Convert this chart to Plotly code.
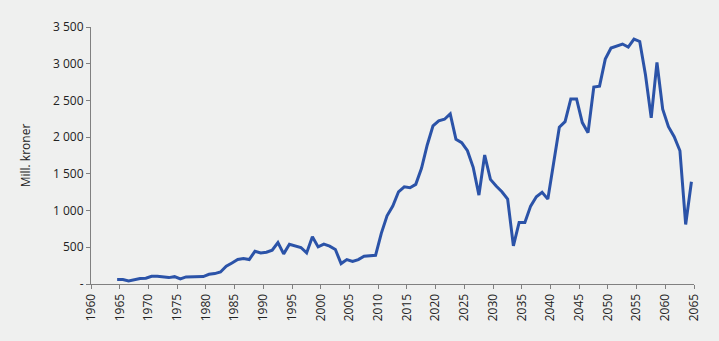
import plotly.graph_objects as go

years = list(range(1965, 2066))
values = [
    60, 60, 41, 60, 74, 78, 105, 105, 100, 87,
    100, 68, 96, 100, 100, 101, 132, 142, 164, 242,
    287, 333, 347, 333, 446, 423, 433, 460, 565, 410,
    542, 515, 497, 423, 642, 505, 542, 515, 470, 278,
    333, 306, 333, 378, 380, 390, 690, 928, 1061, 1256,
    1324, 1311, 1357, 1575, 1893, 2153, 2221, 2244, 2316, 1971,
    1925, 1815, 1589, 1211, 1757, 1425, 1334, 1256, 1156, 519,
    838, 838, 1061, 1188, 1248, 1156, 1643, 2135, 2211, 2521,
    2521, 2198, 2061, 2681, 2694, 3063, 3213, 3245, 3268, 3227,
    3336, 3303, 2850, 2262, 3017, 2380, 2143, 2007, 1815, 811,
    1392,
]

x_tick_years = list(range(1960, 2070, 5))
y_tick_vals = [0, 500, 1000, 1500, 2000, 2500, 3000, 3500]
y_tick_text = ["-", "500", "1 000", "1 500", "2 000", "2 500", "3 000", "3 500"]

offset = 0.45  # data points sit slightly left of the year tick

fig = go.Figure()
fig.add_trace(go.Scatter(
    x=years, y=values, mode="lines",
    line=dict(color="#2b53a8", width=3),
    showlegend=False, hoverinfo="skip",
))

fig.update_layout(
    width=719, height=341,
    margin=dict(l=91, r=25, t=27, b=57),
    paper_bgcolor="#eff0ef",
    plot_bgcolor="#eff0ef",
    font=dict(family="Open Sans", size=12, color="#222222"),
)

fig.update_xaxes(
    range=[1960 + offset, 2065 + offset],
    tickmode="array",
    tickvals=[t + offset for t in x_tick_years],
    ticktext=[str(t) for t in x_tick_years],
    tickangle=-90,
    showgrid=False, zeroline=False,
    showline=True, linecolor="#808080", linewidth=1,
    ticks="outside", ticklen=4, tickcolor="#808080", tickwidth=1,
    tickfont=dict(size=12),
)
fig.update_yaxes(
    range=[0, 3500],
    tickmode="array",
    tickvals=y_tick_vals,
    ticktext=y_tick_text,
    showgrid=False, zeroline=False,
    showline=True, linecolor="#808080", linewidth=1,
    ticks="outside", ticklen=4, tickcolor="#808080", tickwidth=1,
    tickfont=dict(size=12),
    title=dict(text="Mill. kroner", font=dict(size=12), standoff=19),
)

fig.write_html("out.html")
